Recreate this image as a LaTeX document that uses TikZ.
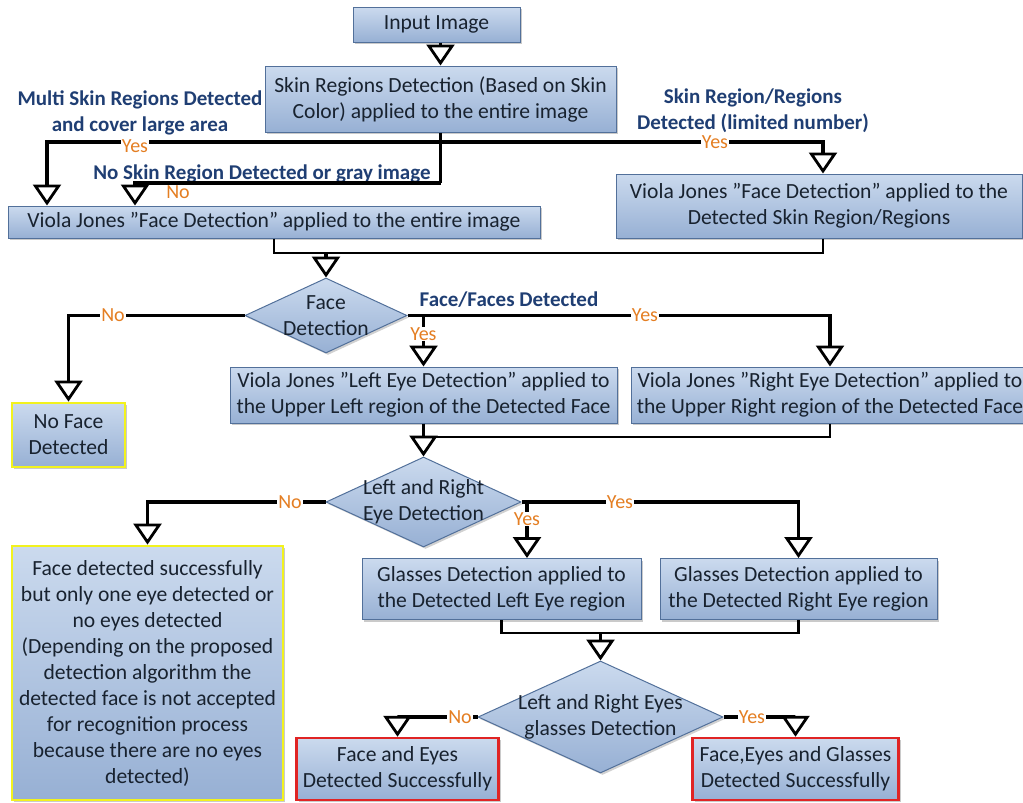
\documentclass[tikz,border=0pt]{standalone}
\usepackage{fontspec}
\setmainfont{Carlito}
\usetikzlibrary{arrows.meta,shapes.geometric,shadows,calc}
\definecolor{boxtop}{HTML}{CBDAEE}
\definecolor{boxbot}{HTML}{97B0D4}
\definecolor{boxline}{HTML}{52709A}
\definecolor{txt}{HTML}{18222F}
\definecolor{lblue}{HTML}{1F3E73}
\definecolor{lorange}{HTML}{E47E22}
\definecolor{ybord}{HTML}{F2F21E}
\definecolor{rbord}{HTML}{E02424}
\begin{document}
\begin{tikzpicture}[x=1pt,y=-1pt,
  box/.style={draw=boxline, line width=1pt, top color=boxtop, bottom color=boxbot,
    text=txt, align=center, inner sep=2pt, font=\fontsize{21.6}{26}\selectfont,
    drop shadow={shadow xshift=2pt,shadow yshift=-2pt,opacity=0.35,fill=black!60}},
  dia/.style={diamond, draw=boxline, line width=1pt, top color=boxtop, bottom color=boxbot,
    inner sep=0pt, drop shadow={shadow xshift=2pt,shadow yshift=-2pt,opacity=0.3,fill=black!60}},
  dtext/.style={text=txt, align=center, inner sep=0pt, font=\fontsize{21.6}{26}\selectfont},
  conn/.style={line width=3.2pt},
  merge/.style={line width=2.4pt},
  arr/.style={conn, -{Triangle[width=28pt,length=21pt,fill=white,line width=2.8pt]}},
  yn/.style={text=lorange, font=\fontsize{20}{22}\selectfont, inner sep=1pt, fill=white},
  cond/.style={text=lblue, font=\bfseries\fontsize{21}{26}\selectfont, align=center, inner sep=0pt},
]
\useasboundingbox (0,0) rectangle (1023,803);

% boxes
\node[box, minimum width=167pt, minimum height=35pt] (input) at (436.5,24.5) {Input Image};
\node[box, minimum width=351pt, minimum height=66pt] (skin) at (440.5,99) {Skin Regions Detection (Based on Skin\\Color) applied to the entire image};
\node[box, minimum width=532pt, minimum height=32pt] (vj1) at (274,222) {Viola Jones ”Face Detection” applied to the entire image};
\node[box, minimum width=406pt, minimum height=64pt] (vj2) at (819,206) {Viola Jones ”Face Detection” applied to the\\Detected Skin Region/Regions};
\node[box, minimum width=113pt, minimum height=64pt, draw=ybord, line width=2.8pt] (noface) at (68.5,435) {No Face\\Detected};
\node[box, minimum width=387pt, minimum height=56pt] (leye) at (423.5,395) {Viola Jones ”Left Eye Detection” applied to\\the Upper Left region of the Detected Face};
\node[box, minimum width=398pt, minimum height=56pt] (reye) at (830,395) {Viola Jones ”Right Eye Detection” applied to\\the Upper Right region of the Detected Face};
\node[box, minimum width=271pt, minimum height=254pt, draw=ybord, line width=2.8pt] (fd) at (147.5,673) {Face detected successfully\\but only one eye detected or\\no eyes detected\\(Depending on the proposed\\detection algorithm the\\detected face is not accepted\\for recognition process\\because there are no eyes\\detected)};
\node[box, minimum width=279pt, minimum height=61pt] (gl) at (501.5,589) {Glasses Detection applied to\\the Detected Left Eye region};
\node[box, minimum width=277pt, minimum height=61pt] (gr) at (798.5,589) {Glasses Detection applied to\\the Detected Right Eye region};
\node[box, minimum width=202pt, minimum height=62pt, draw=rbord, line width=2.5pt] (fe) at (397.5,769) {Face and Eyes\\Detected Successfully};
\node[box, minimum width=206pt, minimum height=62pt, draw=rbord, line width=2.5pt] (feg) at (795.5,769) {Face,Eyes and Glasses\\Detected Successfully};

% diamonds
\node[dia, minimum width=162pt, minimum height=75pt] (d1) at (326,315.5) {};
\node[dtext] (d1t) at (d1) {Face\\Detection};
\node[dia, minimum width=195pt, minimum height=90pt] (d2) at (423.5,502) {};
\node[dtext] (d2t) at (d2) {Left and Right\\Eye Detection};
\node[dia, minimum width=245pt, minimum height=112pt] (d3) at (600.5,717) {};
\node[dtext] (d3t) at (d3) {Left and Right Eyes\\glasses Detection};

% condition labels
\node[cond] (c1) at (140,113) {Multi Skin Regions Detected\\and cover large area};
\node[cond] (c2) at (262,174) {No Skin Region Detected or gray image};
\node[cond] (c3) at (753,111) {Skin Region/Regions\\Detected (limited number)};
\node[cond] (c4) at (509,300) {Face/Faces Detected};

% connectors
\draw[arr] (input.south -| skin.north) -- (skin.north);
\coordinate (j1) at (440.5,142);
\coordinate (yl) at (47,142);
\coordinate (yr) at (823,142);
\coordinate (nb) at (440.5,183);
\coordinate (nl) at (135,183);
\draw[conn] (skin.south) -- (nb);
\draw[arr] (j1) -- (yl) -- (yl |- vj1.north);
\draw[arr] (j1) -- (yr) -- (yr |- vj2.north);
\draw[arr] (nb) -- (nl) -- (nl |- vj1.north);

\coordinate (m1) at (326,253);
\draw[merge] (vj1.south) |- (m1);
\draw[merge] (yr |- vj2.south) |- (m1);
\draw[arr] (m1) -- (d1.north);

\draw[arr] (d1.west) -| (noface.north);
\draw[arr] (d1.east) -| (reye.north);
\coordinate (fy) at (423.5,315.5);
\draw[arr] (fy) -- (leye.north);

\coordinate (m2) at (423.5,437);
\draw[arr] (leye.south) -- (d2.north);
\draw[merge] (reye.south) |- (m2);

\draw[arr] (d2.west) -| (fd.north);
\draw[arr] (d2.east) -| (gr.north);
\coordinate (ey) at (527,502);
\draw[arr] (ey) -- (ey |- gl.north);

\coordinate (m3) at (600.5,633);
\draw[merge] (gl.south) |- (m3);
\draw[merge] (gr.south) |- (m3);
\draw[arr] (m3) -- (d3.north);

\draw[arr] (d3.west) -| (fe.north);
\draw[arr] (d3.east) -| (feg.north);

% yes / no labels
\node[yn] (y1) at (135,146) {Yes};
\node[yn, fill=none] (n1) at (178,192) {No};
\node[yn] (y2) at (715,142) {Yes};
\node[yn] (n2) at (113,315.5) {No};
\node[yn] (y3) at (423.5,334) {Yes};
\node[yn] (y4) at (645,315.5) {Yes};
\node[yn] (n3) at (290,502) {No};
\node[yn] (y5) at (620,502) {Yes};
\node[yn] (y6) at (527,519) {Yes};
\node[yn] (n4) at (460,717) {No};
\node[yn] (y7) at (752,717) {Yes};
\end{tikzpicture}
\end{document}
